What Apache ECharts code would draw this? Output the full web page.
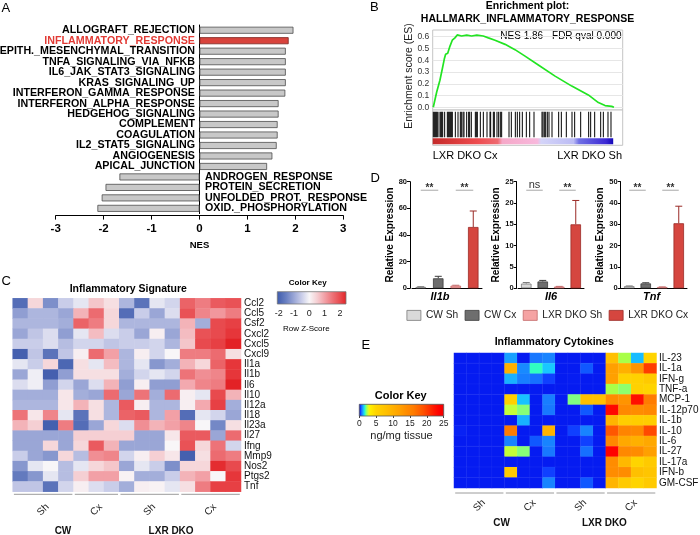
<!DOCTYPE html>
<html><head><meta charset="utf-8">
<script src="https://cdn.jsdelivr.net/npm/echarts@6/dist/echarts.min.js"></script>
<style>html,body{margin:0;padding:0;background:#fff}#c{width:700px;height:535px}</style>
</head><body><div id="c"></div>
<script>
const FF = '"Liberation Sans", Arial, Helvetica, sans-serif';

// ---------- Panel A : GSEA hallmark NES ----------
const hallmarkTerms = ['ALLOGRAFT_REJECTION','INFLAMMATORY_RESPONSE','EPITH._MESENCHYMAL_TRANSITION','TNFA_SIGNALING_VIA_NFKB','IL6_JAK_STAT3_SIGNALING','KRAS_SIGNALING_UP','INTERFERON_GAMMA_RESPONSE','INTERFERON_ALPHA_RESPONSE','HEDGEHOG_SIGNALING','COMPLEMENT','COAGULATION','IL2_STAT5_SIGNALING','ANGIOGENESIS','APICAL_JUNCTION','ANDROGEN_RESPONSE','PROTEIN_SECRETION','UNFOLDED_PROT._RESPONSE','OXID._PHOSPHORYLATION'];
const hallmarkNES = [1.96, 1.86, 1.80, 1.80, 1.80, 1.80, 1.79, 1.65, 1.65, 1.63, 1.63, 1.61, 1.52, 1.41, -1.67, -1.96, -2.04, -2.13];
const highlightTerm = 'INFLAMMATORY_RESPONSE';

// ---------- Panel B : enrichment plot ----------
const esRankPct = [0.3, 2.1, 3.8, 5.1, 6.1, 6.8, 7.9, 9.1, 10.3, 11.7, 12.9, 15.2, 17.9, 20.5, 23.2, 26.6, 29.3, 32.8, 38.1, 43.3, 48.6, 55.6, 64.4, 73.2, 81.9, 87.2, 90.7, 94.2, 95.4];
const esScore   = [0, 0.13, 0.23, 0.33, 0.41, 0.45, 0.46, 0.52, 0.57, 0.59, 0.615, 0.606, 0.613, 0.606, 0.613, 0.606, 0.59, 0.57, 0.535, 0.49, 0.435, 0.36, 0.265, 0.18, 0.105, 0.04, 0.015, 0.008, 0.0];
const hitRankPct = [0.33, 0.86, 1.39, 1.91, 2.44, 3.32, 4.19, 4.72, 5.25, 6.3, 7.7, 8.23, 8.75, 9.28, 9.81, 10.33, 11.91, 13.32, 14.54, 15.07, 15.95, 16.47, 17.88, 18.93, 19.46, 20.33, 22.44, 22.96, 23.49, 25.07, 26.65, 28.58, 30.16, 30.51, 31.91, 32.44, 33.84, 34.72, 35.59, 36.3, 40.16, 41.38, 43.49, 44.54, 45.77, 47.17, 49.28, 51.04, 53.32, 57.53, 58.05, 58.75, 59.46, 60.33, 61.21, 62.79, 66.3, 67.7, 70.33, 73.32, 74.72, 77.88, 82.09, 83.14, 85.25, 88.41, 89.81, 92.26, 93.84];
const rankedListEnd = 95;
const fdrText = 'FDR qval 0.000';
const phenotypeLabels = ['LXR DKO Cx', 'LXR DKO Sh'];

// ---------- Panel C : inflammatory signature (row z-scores) ----------
const cGenes = ['Ccl2','Ccl5','Csf2','Cxcl2','Cxcl5','Cxcl9','Il1a','Il1b','Il6','Il10','Il12a','Il18','Il23a','Il27','Ifng','Mmp9','Nos2','Ptgs2','Tnf'];
const cGroupLabels = ['Sh','Cx','Sh','Cx'];
const cGroupSizes = [4, 3, 4, 4];
const superLabels = ['CW','LXR DKO'];
const cZScores = [
 [-1.8, 0.4,-1.3,-0.5, -0.2, 0.6, 0.3, -0.8,-1.7,-0.2,-0.4, 1.7, 1.4, 1.8, 1.9],
 [-1.1,-0.8,-0.8,-1.0,  0.8, 1.6, 0.4, -1.8,-0.5,-1.0,-0.3, 1.9, 1.3, 1.1, 1.4],
 [-0.8,-0.8,-0.8,-0.9,  1.7, 1.4, 0.4, -0.8,-0.8,-0.8,-0.8, 0.8,-0.9, 2.0, 2.1],
 [-1.0,-0.6,-0.3,-1.1, -0.2, 0.7,-0.3, -0.5,-1.0, 0.1,-1.0, 0.7, 1.9, 2.0, 2.2],
 [-0.5,-0.5,-0.3,-0.7, -0.4,-0.4,-0.6, -0.5,-0.5,-0.4,-0.8, 0.6, 2.0, 2.1, 2.4],
 [-2.0,-0.6,-1.7,-0.6,  0.1, 1.6, 1.0, -0.8, 0.1,-0.4, 0.0, 1.4, 1.4, 1.6, 0.3],
 [-0.2,-0.5, 0.4,-1.9,  0.3,-0.2, 0.7, -0.8,-0.2,-1.2,-0.9, 0.8, 0.4, 1.7, 2.2],
 [-1.0,-0.1,-2.0,-1.1,  0.3, 0.3, 0.3, -0.9,-0.4,-0.2,-0.4, 1.5, 1.2, 1.3, 2.2],
 [-0.3,-0.1,-1.1,-0.4, -1.0,-0.3, 0.8, -1.1, 0.1,-1.1,-1.1, 0.9, 1.3, 1.4, 2.4],
 [-0.9,-0.9,-0.9, 0.2, -0.9,-1.0, 1.6, -1.0, 1.5,-0.9, 1.6, 0.1,-0.2, 2.0, 0.8],
 [-0.8,-0.8,-0.8, 0.2,  0.8, 0.3,-0.8,  1.8, 0.1,-0.8,-0.8, 0.1, 0.9, 2.1,-0.9],
 [ 1.5, 0.2, 1.3,-0.2, -1.7, 0.3,-0.8,  1.7, 1.8,-0.8, 1.0,-1.8,-0.2,-0.4,-1.0],
 [ 0.8, 0.5,-2.0, 1.4, -1.8,-1.0, 0.4, -0.3, 1.2, 0.8, 1.0, 1.3, 0.0,-1.4, 0.3],
 [-1.0,-1.0,-1.0,-1.0,  0.5, 0.5, 0.5,  0.5,-1.0,-1.0, 0.2, 1.8, 1.8,-1.0, 1.6],
 [-1.0,-1.0, 0.4,-1.0,  0.4, 1.8, 0.8, -1.0,-1.0,-1.0, 0.0, 1.9, 0.4, 1.5,-0.4],
 [-0.5,-1.0,-1.2, 0.4, -0.7, 1.2, 1.3, -0.4, 0.1, 0.5, 0.2,-2.0, 0.3, 1.6, 1.4],
 [-1.2,-0.2, 0.0,-0.7, -0.2, 0.4, 0.6, -1.0,-0.2,-0.5,-1.3, 0.4, 0.4, 2.3, 2.0],
 [-1.6,-1.2,-0.2,-0.7,  0.5, 1.0, 1.0, 0.05,-0.9,-0.9,-0.5, 0.8, 1.0, 0.0, 2.2],
 [-0.6,-0.6,-1.7,-0.4,  0.1,-0.3,-0.5, -0.9, 0.1,0.05,-0.2, 0.3, 1.4, 2.1, 2.1]
];
const cKeyTicks = [-2, -1, 0, 1, 2];

// ---------- Panel D : qPCR ----------
const dGroups = ['CW Sh','CW Cx','LXR DKO Sh','LXR DKO Cx'];
const dGenes = ['Il1b','Il6','Tnf'];
const il1bMean = [1.0, 7.5, 2.0, 46.0];
const il1bSem  = [0.2, 1.5, 0.3, 12.0];
const il6Mean  = [1.1, 1.6, 0.4, 15.0];
const il6Sem   = [0.25, 0.25, 0.05, 5.6];
const tnfMean  = [1.0, 2.3, 0.6, 30.5];
const tnfSem   = [0.1, 0.3, 0.05, 8.0];
const il1bSig = ['**','**'];
const il6Sig  = ['ns','**'];
const tnfSig  = ['**','**'];
const dAxisMax = [80, 25, 50];
const dAxisStep = [20, 5, 10];

// ---------- Panel E : cytokines (ng/mg tissue) ----------
const eCytokines = ['IL-23','IL-1a','IFN-g','TNF-a','MCP-1','IL-12p70','IL-1b','IL-10','IL-6','IL-27','IL-17a','IFN-b','GM-CSF'];
const eGroupSizes = [4, 4, 4, 4];
const eValues = [
 [0.1,0.1,0.1,0.1, 1.1,0.1,0.8,0.9,   0.1,0.1,0.1,0.1,   8,2.4,1.3,5],
 [0.1,0.1,0.1,0.1, 10,0.95,1.8,1.4,   0.1,0.1,0.6,0.1,   12,10,13.2,20],
 [0.1,0.1,0.1,0.1, 1.2,0.85,0.75,0.5, 0.1,0.15,0.1,0.1,  12,5.5,5.5,6.5],
 [0.1,0.1,0.1,0.1, 0.1,0.1,0.1,0.1,   0.1,0.1,0.1,0.1,   2.4,2.2,5.5,5],
 [0.1,0.1,0.1,0.1, 5.5,1.35,0.1,0.85, 0.1,2.1,8,8,       14,13.2,22.5,16],
 [0.1,0.1,0.1,0.1, 2.6,2.15,0.1,0.8,  0.1,0.1,0.6,0.1,   23,14.5,14,14.5],
 [0.1,0.1,0.1,0.1, 0.1,1.2,0.1,0.1,   0.1,0.1,0.1,0.1,   9.5,6,6,6],
 [0.3,0.1,0.1,0.1, 16,0.1,0.1,9.5,    0.1,0.5,0.9,0.1,   18.5,15,14.5,19.3],
 [0.1,0.1,0.1,0.1, 0.9,0.1,0.6,0.9,   0.1,0.1,0.5,0.1,   14.5,11,10,11],
 [0.1,0.1,0.1,0.1, 2.6,2.15,0.1,0.8,  0.1,0.1,0.75,0.1,  23.5,14.5,14,12],
 [0.1,0.1,0.1,0.1, 0.1,0.1,0.1,0.1,   0.1,0.1,0.1,0.1,   14,9,5,6.5],
 [0.1,0.1,0.1,0.1, 6.5,0.1,0.1,0.5,   0.1,0.1,0.1,0.1,   14,14,8,7.2],
 [0.1,0.1,0.1,0.1, 0.1,0.1,0.1,0.9,   0.1,0.1,0.6,0.1,   9.5,6.5,5,6.5]
];

// ---------- colour helpers (style only) ----------
const cStops = [[-2.1,'#3d5aab'],[-1.5,'#6a80c2'],[-1,'#9aa6d6'],[-0.5,'#c9cde9'],[0,'#f8f6f8'],[0.5,'#f5cfd3'],[1,'#f2a0a6'],[1.5,'#ed7378'],[2,'#e84a4e'],[2.4,'#e32226']];
const eStops = [[0,'#0418f0'],[0.3,'#0822f4'],[0.5,'#1040ff'],[0.6,'#1058ff'],[0.8,'#1878ff'],[1.0,'#1890ff'],[1.2,'#18b0ff'],[1.4,'#18c8ff'],[1.8,'#30ffc0'],[2.1,'#80ff80'],[2.4,'#a8ff48'],[2.7,'#d0ff30'],[3.2,'#fff000'],[5,'#ffd400'],[8,'#ffc000'],[10,'#ffb000'],[12,'#ffa000'],[14,'#ff8c00'],[16,'#ff7c00'],[19,'#ff5000'],[22,'#ff1800'],[23.5,'#ff0000'],[25,'#f00000']];
const rankStripStops = [[0,'#c42a2a'],[0.12,'#d93a3a'],[0.25,'#ee4c50'],[0.36,'#ee6a70'],[0.385,'#f5a8c8'],[0.58,'#f8b8dc'],[0.6,'#d4d4f8'],[0.78,'#bcbcf4'],[0.81,'#7070e4'],[0.96,'#3c28d4'],[1,'#1408b8']];
function rgb(h){const n=parseInt(h.slice(1),16);return [(n>>16)&255,(n>>8)&255,n&255];}
function colorAt(stops,v){
  if(v<=stops[0][0]) return stops[0][1];
  for(let i=1;i<stops.length;i++){
    if(v<=stops[i][0]){
      const t=(v-stops[i-1][0])/(stops[i][0]-stops[i-1][0]);
      const a=rgb(stops[i-1][1]), b=rgb(stops[i][1]);
      return 'rgb('+a.map((x,k)=>Math.round(x+(b[k]-x)*t)).join(',')+')';
    }
  }
  return stops[stops.length-1][1];
}
function sampleStops(stops,min,max,n){const out=[];for(let k=0;k<n;k++){out.push(colorAt(stops,min+(max-min)*k/(n-1)));}return out;}
function gradientOf(stops){const min=stops[0][0],max=stops[stops.length-1][0];return {type:'linear',x:0,y:0,x2:1,y2:0,colorStops:stops.map(s=>({offset:(s[0]-min)/(max-min),color:s[1]}))};}

const series = [];
const axisTxt = {fontFamily: FF, color:'#000'};

// ---------- A series ----------
series.push({
  type:'bar', xAxisIndex:0, yAxisIndex:0, silent:true, barWidth:7,
  itemStyle:{color:'#c8c8c8', borderColor:'#4d4d4d', borderWidth:0.8},
  data: hallmarkNES.map((v,i)=> hallmarkTerms[i]===highlightTerm ? {value:v, itemStyle:{color:'#d8433c', borderColor:'#7a2420'}} : v)
});
series.push({
  type:'scatter', xAxisIndex:0, yAxisIndex:0, silent:true, symbolSize:1,
  itemStyle:{color:'rgba(0,0,0,0)', opacity:1},
  label:{show:true, opacity:1, fontFamily:FF, fontWeight:'bold', fontSize:10.7, formatter:(p)=>hallmarkTerms[p.dataIndex]},
  data: hallmarkTerms.map((t,i)=>({value:[0,t], label:{position: hallmarkNES[i]>=0?'left':'right', distance: hallmarkNES[i]>=0?4:5, color: t===highlightTerm?'#e23b35':'#000'}}))
});

// ---------- B series ----------
series.push({
  type:'line', xAxisIndex:2, yAxisIndex:2, silent:true, symbol:'none', clip:false,
  lineStyle:{color:'#22e422', width:1.7},
  data: esRankPct.map((x,i)=>[x, esScore[i]])
});
series.push({
  type:'custom', xAxisIndex:3, yAxisIndex:3, silent:true, encode:{x:0, y:1},
  data: hitRankPct.map(p=>[p, 0]),
  renderItem:(params, api)=>{
    const x = api.coord([api.value(0), 0])[0];
    const yt = api.coord([0, 0.95])[1], yb = api.coord([0, 0.227])[1];
    return {type:'line', shape:{x1:x, y1:yt, x2:x, y2:yb}, style:{stroke:'#000', lineWidth:1}};
  }
});
series.push({
  type:'custom', xAxisIndex:3, yAxisIndex:3, silent:true, encode:{x:[0,1], y:2},
  data: [[0, rankedListEnd, 0]],
  renderItem:(params, api)=>{
    const x0 = api.coord([api.value(0), 0])[0], x1 = api.coord([api.value(1), 0])[0];
    const y0 = api.coord([0, 0.198])[1], y1 = api.coord([0, 0.028])[1];
    const g = {type:'linear',x:0,y:0,x2:1,y2:0,colorStops:rankStripStops.map(s=>({offset:s[0],color:s[1]}))};
    return {type:'rect', shape:{x:x0, y:y0, width:x1-x0, height:y1-y0}, style:{fill:g}};
  }
});

// ---------- group bracket helper ----------
function groupRanges(sizes){const r=[];let s=0;sizes.forEach(n=>{r.push([s,s+n-1]);s+=n;});return r;}
function bracketSeries(axisIdx, sizes, labels, cfg){
  const ranges = groupRanges(sizes);
  const supers = [[ranges[0][0], ranges[1][1]], [ranges[2][0], ranges[3][1]]];
  return [{
    type:'custom', xAxisIndex:axisIdx, yAxisIndex:axisIdx, silent:true, clip:false, encode:{x:[0,1], y:2},
    data: ranges.map(r=>[r[0], r[1], 0]),
    renderItem:(params, api)=>{
      const cs = params.coordSys, bw = api.size([1,0])[0];
      const x0 = api.coord([api.value(0),0])[0]-bw/2+1.2, x1 = api.coord([api.value(1),0])[0]+bw/2-1.2;
      const yb = cs.y + cs.height + cfg.gap;
      return {type:'group', children:[
        {type:'line', shape:{x1:x0,y1:yb,x2:x1,y2:yb}, style:{stroke:'#9c9c9c', lineWidth:1}},
        {type:'text', x:(x0+x1)/2, y:yb+cfg.labelDy, rotation:Math.PI/4, style:{text:labels[params.dataIndex], align:'center', verticalAlign:'middle', fontSize:10, fontFamily:FF, fill:'#222'}}
      ]};
    }
  },{
    type:'custom', xAxisIndex:axisIdx, yAxisIndex:axisIdx, silent:true, clip:false, encode:{x:[0,1], y:2},
    data: supers.map(r=>[r[0], r[1], 0]),
    renderItem:(params, api)=>{
      const cs = params.coordSys, bw = api.size([1,0])[0];
      const x0 = api.coord([api.value(0),0])[0]-bw/2, x1 = api.coord([api.value(1),0])[0]+bw/2;
      const yb = cs.y + cs.height + cfg.gap;
      return {type:'text', x:(x0+x1)/2+cfg.superDx[params.dataIndex], y:yb+cfg.superDy, style:{text:superLabels[params.dataIndex], align:'center', verticalAlign:'middle', fontSize:10, fontWeight:'bold', fontFamily:FF, fill:'#111'}};
    }
  }];
}

// ---------- C series ----------
const cSamples = [];
groupRanges(cGroupSizes).forEach((r,gi)=>{for(let k=r[0];k<=r[1];k++) cSamples.push((gi<2?'CW ':'LXR ')+cGroupLabels[gi]+' '+(k-r[0]+1));});
const cHeatIdx = series.length;
const cData = [];
cZScores.forEach((row,ri)=>row.forEach((v,ci)=>cData.push([ci, ri, v])));
series.push({type:'heatmap', xAxisIndex:4, yAxisIndex:4, silent:true, data:cData, itemStyle:{borderWidth:0}, emphasis:{disabled:true}});
series.push({
  type:'custom', xAxisIndex:5, yAxisIndex:5, silent:true, encode:{x:[0,1], y:2},
  data: [[cStops[0][0], cStops[cStops.length-1][0], 0]],
  renderItem:(params, api)=>{
    const p0 = api.coord([api.value(0), 1]), p1 = api.coord([api.value(1), 0]);
    return {type:'rect', shape:{x:p0[0], y:p0[1], width:p1[0]-p0[0], height:p1[1]-p0[1]}, style:{fill:gradientOf(cStops), stroke:'#777', lineWidth:0.8}};
  }
});
series.push(...bracketSeries(4, cGroupSizes, cGroupLabels, {gap:2.6, labelDy:15.5, superDy:37.4, superDx:[-3,-9]}));

// ---------- D series ----------
const dFill   = ['#d9d9d9','#6e6e6e','#f5a3a3','#d5463f'];
const dBorder = ['#7a7a7a','#3c3c3c','#c46a6a','#9a2a26'];
const dMeans = [il1bMean, il6Mean, tnfMean];
const dSems  = [il1bSem, il6Sem, tnfSem];
const dSigs  = [il1bSig, il6Sig, tnfSig];
dGenes.forEach((gene,k)=>{
  const ax = 6+k;
  dGroups.forEach((grp,g)=>{
    series.push({type:'bar', name:grp, xAxisIndex:ax, yAxisIndex:ax, silent:true, barWidth:10.5, barGap:'-100%',
      itemStyle:{color:dFill[g], borderColor:dBorder[g], borderWidth:0.8},
      data: dGroups.map((_,j)=> j===g ? dMeans[k][g] : '-')});
  });
  series.push({type:'custom', xAxisIndex:ax, yAxisIndex:ax, silent:true, encode:{x:0, y:[1,2]},
    data: dGroups.map((_,g)=>[g, dMeans[k][g], dMeans[k][g]+dSems[k][g]]),
    renderItem:(params, api)=>{
      const g = api.value(0), p0 = api.coord([g, api.value(1)]), p1 = api.coord([g, api.value(2)]);
      const col = dBorder[g];
      return {type:'group', children:[
        {type:'line', shape:{x1:p0[0],y1:p0[1],x2:p1[0],y2:p1[1]}, style:{stroke:col, lineWidth:1}},
        {type:'line', shape:{x1:p1[0]-3.5,y1:p1[1],x2:p1[0]+3.5,y2:p1[1]}, style:{stroke:col, lineWidth:1}}]};
    }});
  const lvl = dAxisMax[k]*0.92;
  series.push({type:'custom', xAxisIndex:ax, yAxisIndex:ax, silent:true, clip:false, encode:{x:[0,1], y:2},
    data: [[0,1,lvl],[2,3,lvl]],
    renderItem:(params, api)=>{
      const p0 = api.coord([api.value(0), api.value(2)]), p1 = api.coord([api.value(1), api.value(2)]);
      const lab = dSigs[k][params.dataIndex];
      const ns = lab==='ns';
      return {type:'group', children:[
        {type:'line', shape:{x1:p0[0],y1:p0[1],x2:p1[0],y2:p1[1]}, style:{stroke:'#a8a8a8', lineWidth:1}},
        {type:'text', x:(p0[0]+p1[0])/2, y:p0[1]-(ns?5:2), style:{text:lab, align:'center', verticalAlign:'middle', fontSize: ns?11:10, fontWeight: ns?'normal':'bold', fontFamily:FF, fill:'#333'}}]};
    }});
});

// ---------- E series ----------
const eSamples = [];
groupRanges(eGroupSizes).forEach((r,gi)=>{for(let k=r[0];k<=r[1];k++) eSamples.push((gi<2?'CW ':'LXR ')+cGroupLabels[gi]+' '+(k-r[0]+1));});
const eHeatIdx = series.length;
const eData = [];
eValues.forEach((row,ri)=>row.forEach((v,ci)=>eData.push([ci, ri, v])));
series.push({type:'heatmap', xAxisIndex:9, yAxisIndex:9, silent:true, data:eData, itemStyle:{borderWidth:0.4, borderColor:'rgba(255,255,255,0.12)'}, emphasis:{disabled:true}});
series.push({
  type:'custom', xAxisIndex:10, yAxisIndex:10, silent:true, encode:{x:[0,1], y:2},
  data: [[eStops[0][0], eStops[eStops.length-1][0], 0]],
  renderItem:(params, api)=>{
    const p0 = api.coord([api.value(0), 1]), p1 = api.coord([api.value(1), 0]);
    return {type:'rect', shape:{x:p0[0], y:p0[1], width:p1[0]-p0[0], height:p1[1]-p0[1]}, style:{fill:gradientOf(eStops), stroke:'#555', lineWidth:0.8}};
  }
});
series.push(...bracketSeries(9, eGroupSizes, cGroupLabels, {gap:5, labelDy:12.5, superDy:30, superDx:[-3,-1.5]}));

// ---------- grids & axes ----------
const G = (o)=>Object.assign({containLabel:false, outerBoundsMode:'none'}, o);
const grid = [
  G({left:55.7, top:25, width:287.6, height:188.6}),
  G({left:432.7, top:30, width:190, height:80, show:true, borderColor:'#c4c4c4', borderWidth:1, backgroundColor:'#fff'}),
  G({left:432.7, top:36.7, width:190, height:70.6}),
  G({left:432.7, top:110, width:190, height:35.3, show:true, borderColor:'#c4c4c4', borderWidth:1, backgroundColor:'#fff'}),
  G({left:12.7, top:298.3, width:228.3, height:193.4}),
  G({left:277.3, top:291.7, width:68.7, height:12.3}),
  G({left:412, top:181.7, width:70, height:106.6}),
  G({left:518, top:181.7, width:66, height:106.6}),
  G({left:621, top:181.7, width:66, height:106.6}),
  G({left:454, top:353, width:202.5, height:135}),
  G({left:359.3, top:404.3, width:84.4, height:11.7})
];
const hidden = (gi, o)=>Object.assign({gridIndex:gi, type:'value', show:false, min:0, max:1}, o||{});
const xAxis = [
  {gridIndex:0, type:'value', min:-3, max:3, interval:1, offset:2,
   axisLine:{show:true, onZero:false, lineStyle:{color:'#000', width:1}}, axisTick:{show:true, length:4, lineStyle:{color:'#000'}},
   axisLabel:Object.assign({fontSize:11.5, fontWeight:'bold', margin:7}, axisTxt), splitLine:{show:false},
   name:'NES', nameLocation:'middle', nameGap:25, nameTextStyle:Object.assign({fontWeight:'bold', fontSize:9.5}, axisTxt)},
  hidden(1,{max:100}),
  hidden(2,{max:100}),
  hidden(3,{max:100}),
  {gridIndex:4, type:'category', data:cSamples, show:false},
  {gridIndex:5, type:'value', min:cStops[0][0], max:cStops[cStops.length-1][0], axisLine:{show:false}, axisTick:{show:false}, splitLine:{show:false},
   axisLabel:Object.assign({fontSize:9, margin:5, customValues:cKeyTicks, formatter:(v)=>Math.abs(v-Math.round(v))<1e-6?String(Math.round(v)):''}, axisTxt, {color:'#222'})},
];
dGenes.forEach((gene,k)=>{
  xAxis.push({gridIndex:6+k, type:'category', data:dGroups, axisLine:{show:true, onZero:false, lineStyle:{color:'#000'}}, axisTick:{show:false}, axisLabel:{show:false},
    name:gene, nameLocation:'middle', nameGap:3, nameTextStyle:Object.assign({fontStyle:'italic', fontWeight:'bold', fontSize:11, padding: k===0?[0,14,0,0]:(k===2?[0,5,0,0]:0)}, axisTxt)});
});
xAxis.push({gridIndex:9, type:'category', data:eSamples, show:false});
xAxis.push({gridIndex:10, type:'value', min:0, max:25, interval:5, axisLine:{show:false}, axisTick:{show:true, length:2, lineStyle:{color:'#444'}}, splitLine:{show:false},
  axisLabel:Object.assign({fontSize:8.5, margin:3}, axisTxt, {color:'#222'}),
  name:'ng/mg tissue', nameLocation:'middle', nameGap:14, nameTextStyle:Object.assign({fontSize:11}, axisTxt, {color:'#222'})});

const yAxis = [
  {gridIndex:0, type:'category', data:hallmarkTerms, inverse:true, axisLine:{show:true, onZero:true, lineStyle:{color:'#000'}}, axisTick:{show:false}, axisLabel:{show:false}, splitLine:{show:false}},
  hidden(1),
  {gridIndex:2, type:'value', min:0, max:0.6, interval:0.1, axisLine:{show:false}, axisTick:{show:false},
   axisLabel:Object.assign({fontSize:8.5, margin:3.5, formatter:(v)=>v.toFixed(1)}, axisTxt, {color:'#333'}), splitLine:{show:true, lineStyle:{color:'#e6e6e6', width:1}}},
  hidden(3),
  {gridIndex:4, type:'category', data:cGenes, inverse:true, position:'right', axisLine:{show:false}, axisTick:{show:false}, splitLine:{show:false},
   axisLabel:Object.assign({fontSize:10, margin:3, interval:0}, axisTxt, {color:'#111'})},
  hidden(5)
];
const dNameGap = [12, 15.7, 15.4];
const dOffset = [2, 1.3, 0.3];
dGenes.forEach((gene,k)=>{
  yAxis.push({gridIndex:6+k, type:'value', min:0, max:dAxisMax[k], interval:dAxisStep[k], offset:dOffset[k],
    axisLine:{show:true, lineStyle:{color:'#000'}}, axisTick:{show:true, length:3, lineStyle:{color:'#000'}}, splitLine:{show:false},
    axisLabel:Object.assign({fontSize:7.5, fontWeight:'bold', margin:3}, axisTxt, {color:'#111'}),
    name:'Relative Expression', nameLocation:'middle', nameGap:dNameGap[k], nameTextStyle:Object.assign({fontSize:10, fontWeight:'bold'}, axisTxt)});
});
yAxis.push({gridIndex:9, type:'category', data:eCytokines, inverse:true, position:'right', axisLine:{show:false}, axisTick:{show:false}, splitLine:{show:false},
  axisLabel:Object.assign({fontSize:10, margin:2.5, interval:0}, axisTxt, {color:'#111'})});
yAxis.push(hidden(10));

// ---------- free text ----------
const txt = (text, x, y, o)=>({type:'text', x:x, y:y, silent:true, style:Object.assign({text:text, fill:'#000', fontSize:10, fontFamily:FF, align:'left', verticalAlign:'middle'}, o||{})});
const nesOfHighlight = hallmarkNES[hallmarkTerms.indexOf(highlightTerm)];
const graphic = [
  txt('A', 1.5, 8, {fontSize:13}),
  txt('B', 370, 7.5, {fontSize:13}),
  txt('C', 1.5, 281, {fontSize:13}),
  txt('D', 370.5, 178.5, {fontSize:13}),
  txt('E', 361.5, 345.5, {fontSize:13}),
  txt('Enrichment plot:', 527.5, 6.5, {align:'center', fontWeight:'bold', fontSize:10.5}),
  txt('HALLMARK_' + highlightTerm, 527.5, 19, {align:'center', fontWeight:'bold', fontSize:10.5}),
  txt('NES ' + nesOfHighlight.toFixed(2) + ' - ' + fdrText, 621.5, 36, {align:'right', fontSize:10}),
  {type:'text', x:409, y:76, rotation:Math.PI/2, silent:true, style:{text:'Enrichment score (ES)', fill:'#222', fontSize:10.5, fontFamily:FF, align:'center', verticalAlign:'middle'}},
  txt(phenotypeLabels[0], 432.7, 155.5, {fontSize:11}),
  txt(phenotypeLabels[1], 622, 155.5, {fontSize:11, align:'right'}),
  txt('Inflammatory Signature', 128.3, 289, {align:'center', fontWeight:'bold', fontSize:10.5}),
  txt('Color Key', 307.7, 282.3, {align:'center', fontWeight:'bold', fontSize:8}),
  txt('Row Z-Score', 306.3, 328.3, {align:'center', fontSize:8}),
  txt('Inflammatory Cytokines', 554.2, 341.7, {align:'center', fontWeight:'bold', fontSize:10.5}),
  txt('Color Key', 400.7, 395.7, {align:'center', fontWeight:'bold', fontSize:11})
];

const chart = echarts.init(document.getElementById('c'), null, {renderer:'canvas', width:700, height:535});
chart.setOption({
  animation:false,
  backgroundColor:'#fff',
  textStyle:{fontFamily:FF},
  grid, xAxis, yAxis, series, graphic,
  legend:{data:dGroups, left:406.5, top:310, width:330, padding:0, itemWidth:14, itemHeight:10, itemGap:6.5, icon:'rect', selectedMode:false,
    itemStyle:{borderWidth:0.8},
    textStyle:{fontSize:10.2, color:'#222', fontFamily:FF}},
  visualMap:[
    {type:'continuous', show:false, seriesIndex:cHeatIdx, dimension:2, min:cStops[0][0], max:cStops[cStops.length-1][0], inRange:{color:sampleStops(cStops, cStops[0][0], cStops[cStops.length-1][0], 91)}},
    {type:'continuous', show:false, seriesIndex:eHeatIdx, dimension:2, min:0, max:25, inRange:{color:sampleStops(eStops, 0, 25, 251)}}
  ]
});
</script></body></html>
